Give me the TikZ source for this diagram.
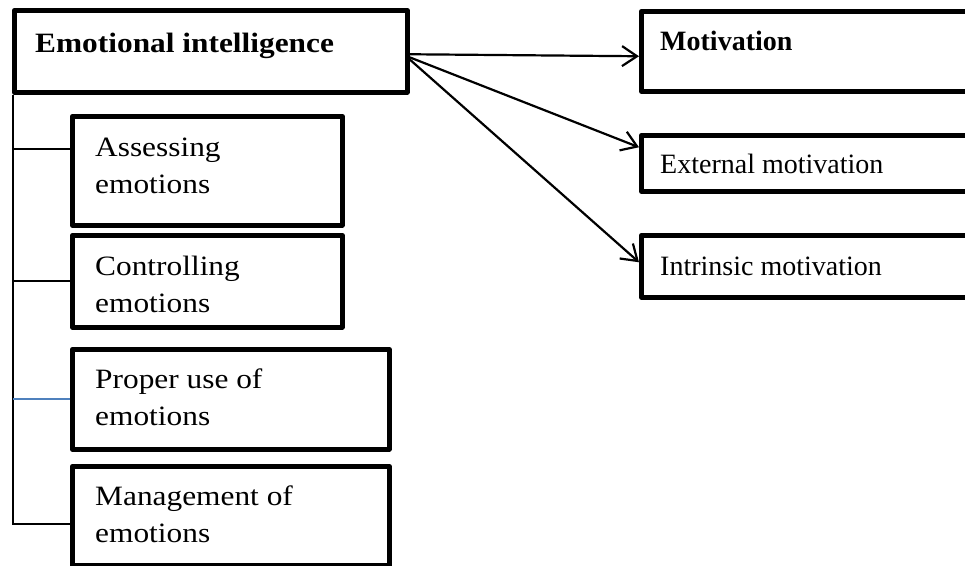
\documentclass[tikz,border=0pt]{standalone}
\usepackage{fontspec}
\setmainfont{Liberation Serif}
\newfontfamily\widefont{Liberation Serif}[FakeStretch=1.12]
\usetikzlibrary{arrows.meta}
\definecolor{offblue}{HTML}{4F81BD}
\begin{document}
\begin{tikzpicture}[x=1pt,y=-1pt,
  box/.style={draw=black,line width=4.5pt,line join=round,rectangle,inner sep=0pt,anchor=north west},
  txt/.style={inner sep=0pt,anchor=base west,align=left,font=\fontsize{28}{37}\selectfont},
  wtxt/.style={txt,font=\widefont\fontsize{28}{37}\selectfont},
  conn/.style={draw=black,line width=2.2pt},
  arr/.style={draw=black,line width=2.2pt,-{Straight Barb[length=15pt,width=20pt,line width=2.2pt]}}]
\useasboundingbox (0,0) rectangle (965,565);
\clip (0,0) rectangle (965,565);
% boxes
\node[box,minimum width=393pt,minimum height=82pt] (EI) at (12,8) {};
\node[box,minimum width=350pt,minimum height=80pt] (Mot) at (639,9) {};
\node[box,minimum width=350pt,minimum height=56pt] (Ext) at (639,133) {};
\node[box,minimum width=350pt,minimum height=62pt] (Int) at (639,233) {};
\node[box,minimum width=270pt,minimum height=109pt] (Ass) at (70,114) {};
\node[box,minimum width=270pt,minimum height=92pt] (Con) at (70,233) {};
\node[box,minimum width=317pt,minimum height=100pt] (Pro) at (70,347) {};
\node[box,minimum width=317pt,minimum height=99pt] (Man) at (70,464) {};
% texts
\node[wtxt,font=\widefont\fontsize{28}{37}\selectfont\bfseries] (tEI) at (35,52) {Emotional intelligence};
\node[txt,font=\fontsize{28}{37}\selectfont\bfseries] (tMot) at (660,50) {Motivation};
\node[txt] (tExt) at (660,173) {External motivation};
\node[txt] (tInt) at (660,275) {Intrinsic motivation};
\node[wtxt] (tAss) at (95,193) {Assessing\\emotions};
\node[wtxt] (tCon) at (95,312) {Controlling\\emotions};
\node[wtxt] (tPro) at (95,425) {Proper use of\\emotions};
\node[wtxt] (tMan) at (95,542) {Management of\\emotions};
% spine and branches
\coordinate (spineTop) at ([xshift=1pt]EI.south west);
\coordinate (bAss) at ([yshift=21.5pt]Ass.west);
\coordinate (bMan) at ([yshift=-8.5pt]Man.west);
\draw[conn] (spineTop) |- (bMan);
\draw[conn] (bAss) -- (bAss -| spineTop);
\draw[conn] (Con.west) -- (Con.west -| spineTop);
\draw[conn,draw=offblue] (Pro.west) -- (Pro.west -| spineTop);
% arrows
\draw[arr] ([yshift=-3pt]EI.east) -- ([yshift=-5pt]Mot.west);
\draw[arr] ([yshift=-6pt]EI.east) -- ([yshift=16pt]Ext.west);
\draw[arr] ([yshift=-8pt]EI.east) -- ([yshift=4pt]Int.west);
\end{tikzpicture}
\end{document}
